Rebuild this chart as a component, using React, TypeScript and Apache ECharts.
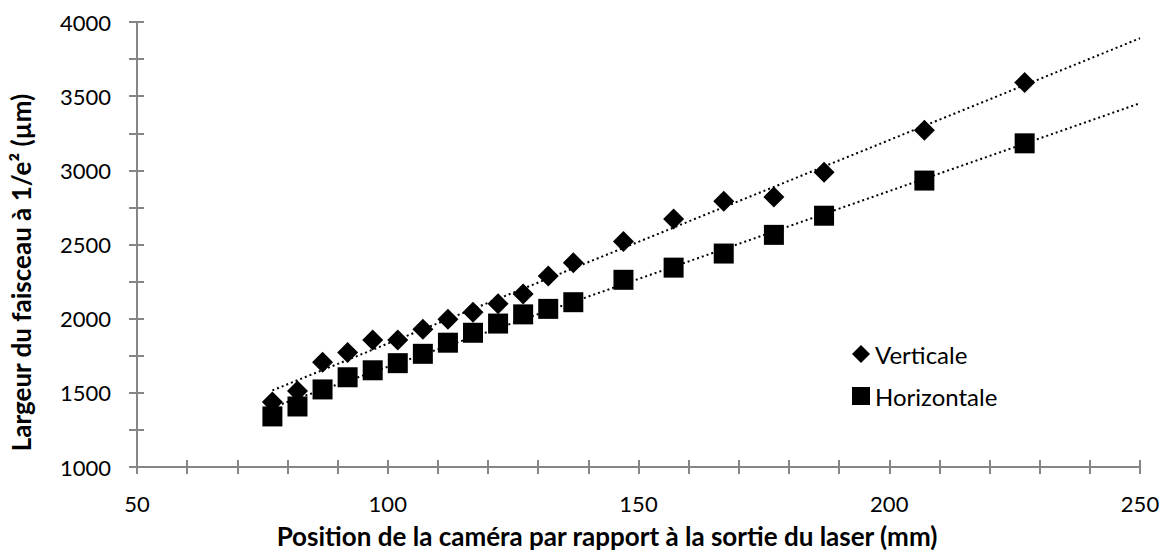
import React, { useEffect, useRef } from "react";
import * as echarts from "echarts";

const positions = [77, 82, 87, 92, 97, 102, 107, 112, 117, 122, 127, 132, 137, 147, 157, 167, 177, 187, 207, 227];
const verticale = [1439, 1512, 1707, 1772, 1856, 1856, 1929, 1996, 2044, 2100, 2166, 2288, 2377, 2521, 2672, 2791, 2820, 2987, 3270, 3592];
const horizontale = [1341, 1408, 1523, 1605, 1652, 1700, 1763, 1838, 1905, 1967, 2029, 2066, 2111, 2262, 2344, 2439, 2565, 2694, 2931, 3182];
const seriesNames = ["Verticale", "Horizontale"];
const xTitle = "Position de la caméra par rapport à la sortie du laser (mm)";
const yTitle = "Largeur du faisceau à 1/e² (µm)";
const trendEndX = 250;

function linearTrend(xs: number[], ys: number[], xEnd: number): number[][] {
  const n = xs.length;
  const mx = xs.reduce((a, b) => a + b, 0) / n;
  const my = ys.reduce((a, b) => a + b, 0) / n;
  let sxy = 0;
  let sxx = 0;
  for (let i = 0; i < n; i++) {
    sxy += (xs[i] - mx) * (ys[i] - my);
    sxx += (xs[i] - mx) * (xs[i] - mx);
  }
  const slope = sxy / sxx;
  const icpt = my - slope * mx;
  const x0 = Math.min(...xs);
  return [
    [x0, icpt + slope * x0],
    [xEnd, icpt + slope * xEnd],
  ];
}

const FONT = "Lato";
const AXIS_COLOR = "#868686";
const plain = (v: number) => String(v);

export default function App() {
  const ref = useRef<HTMLDivElement>(null);
  useEffect(() => {
    if (!ref.current) return;
    const chart = echarts.init(ref.current, null, { renderer: "svg" });
    const vData = positions.map((x, i) => [x, verticale[i]]);
    const hData = positions.map((x, i) => [x, horizontale[i]]);
    const tickLine = { color: AXIS_COLOR, width: 2 };
    chart.setOption({
      animation: false,
      backgroundColor: "#ffffff",
      textStyle: { fontFamily: FONT },
      grid: { left: 136, right: 29, top: 22, bottom: 82 },
      legend: {
        data: seriesNames,
        orient: "vertical",
        left: 847,
        top: 337,
        itemWidth: 18,
        itemHeight: 18,
        itemGap: 18,
        textStyle: { fontSize: 24, color: "#000", fontFamily: FONT },
      },
      xAxis: [
        {
          type: "value",
          min: 50,
          max: 250,
          interval: 50,
          splitLine: { show: false },
          name: xTitle,
          nameLocation: "middle",
          nameGap: 56,
          nameTextStyle: {
            fontSize: 26,
            fontWeight: "bold",
            color: "#000",
            fontFamily: FONT,
            padding: [0, 63, 0, 0],
          },
          axisLine: { show: true, lineStyle: tickLine },
          axisTick: { show: true, length: 7, lineStyle: tickLine },
          minorTick: { show: true, splitNumber: 5, length: 7, lineStyle: tickLine },
          axisLabel: { fontSize: 22, color: "#000", margin: 25, fontFamily: FONT, formatter: plain },
        },
        {
          type: "value",
          position: "bottom",
          min: 50,
          max: 250,
          interval: 50,
          splitLine: { show: false },
          axisLine: { show: false },
          axisTick: { show: true, inside: true, length: 7, lineStyle: tickLine },
          minorTick: { show: true, splitNumber: 5, length: 7, lineStyle: tickLine },
          axisLabel: { show: false },
        },
      ],
      yAxis: [
        {
          type: "value",
          min: 1000,
          max: 4000,
          interval: 500,
          splitLine: { show: false },
          name: yTitle,
          nameLocation: "middle",
          nameGap: 103,
          nameTextStyle: {
            fontSize: 26,
            fontWeight: "bold",
            color: "#000",
            fontFamily: FONT,
            padding: [0, 56, 0, 0],
          },
          axisLine: { show: true, lineStyle: tickLine },
          axisTick: { show: true, length: 8, lineStyle: tickLine },
          minorTick: { show: true, splitNumber: 2, length: 8, lineStyle: tickLine },
          axisLabel: { fontSize: 22, color: "#000", margin: 26, fontFamily: FONT, formatter: plain },
        },
        {
          type: "value",
          position: "left",
          min: 1000,
          max: 4000,
          interval: 500,
          splitLine: { show: false },
          axisLine: { show: false },
          axisTick: { show: true, inside: true, length: 7, lineStyle: tickLine },
          minorTick: { show: true, splitNumber: 2, length: 7, lineStyle: tickLine },
          axisLabel: { show: false },
        },
      ],
      series: [
        {
          name: "trend-v",
          type: "line",
          data: linearTrend(positions, verticale, trendEndX),
          symbol: "none",
          lineStyle: { color: "#000", width: 2, type: [2, 3] },
          z: 1,
        },
        {
          name: "trend-h",
          type: "line",
          data: linearTrend(positions, horizontale, trendEndX),
          symbol: "none",
          lineStyle: { color: "#000", width: 2, type: [2, 3] },
          z: 1,
        },
        {
          name: seriesNames[0],
          type: "scatter",
          data: vData,
          symbol: "diamond",
          symbolSize: 21,
          itemStyle: { color: "#000", opacity: 1 },
          z: 3,
        },
        {
          name: seriesNames[1],
          type: "scatter",
          data: hData,
          symbol: "rect",
          symbolSize: 20,
          itemStyle: { color: "#000", opacity: 1 },
          z: 3,
        },
      ],
    });
    return () => chart.dispose();
  }, []);
  return (
    <div
      ref={ref}
      style={{ position: "fixed", left: 0, top: 0, width: 1169, height: 554, background: "#fff" }}
    />
  );
}
